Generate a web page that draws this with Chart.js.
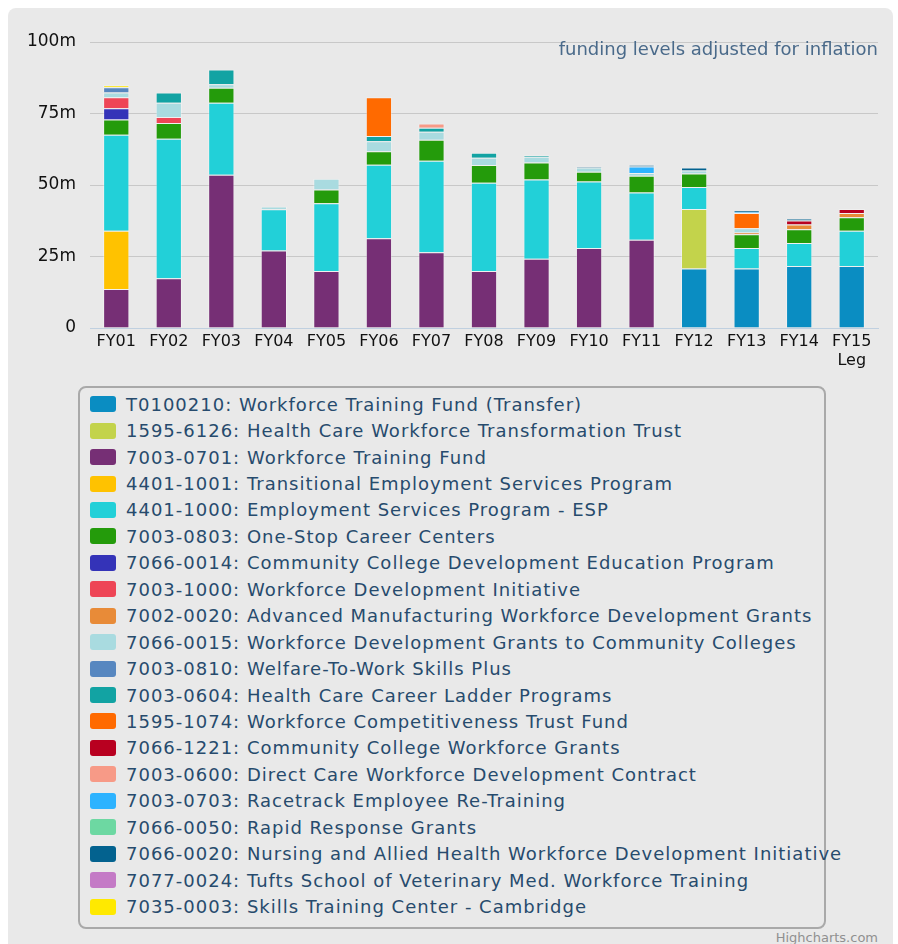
<!DOCTYPE html>
<html lang="en">
<head>
<meta charset="UTF-8">
<title>Workforce training funding</title>
<script src="https://cdn.jsdelivr.net/npm/chart.js@4.4.7/dist/chart.umd.min.js"></script>
<style>
  * { margin: 0; padding: 0; box-sizing: border-box; }
  body { background: #fff; width: 898px; height: 944px; overflow: hidden; position: relative;
         font-family: 'DejaVu Sans', sans-serif; }
  .panel { position: absolute; left: 8px; top: 8px; width: 885px; height: 960px;
           background: #e9e9e9; border-radius: 8px; }
  .chart-box { position: absolute; left: 0; top: 0; width: 898px; height: 380px; }
  .note { position: absolute; right: 20px; top: 38px; font-size: 18px; line-height: 22px;
          color: #4a6a8a; white-space: nowrap; }
  .legend { position: absolute; left: 78px; top: 386px; width: 748px; height: 543px;
            border: 2px solid #a9a9a9; border-radius: 8px; padding: 3px 0 0 10px; }
  .legend-item { display: flex; align-items: center; height: 26.45px; font-size: 18px;
                 letter-spacing: 1px; color: #274b6d; white-space: nowrap; }
  .legend-dot { width: 26px; height: 16px; border-radius: 3px; margin-right: 10px; flex-shrink: 0; }
  .credit { position: absolute; right: 20px; top: 930px; font-size: 13px; color: #909090; }
</style>
</head>
<body>
<div class="panel"></div>
<div class="chart-box"><canvas id="bars" width="898" height="380"></canvas></div>
<div class="note">funding levels adjusted for inflation</div>
<div class="legend" id="legend"></div>
<div class="credit">Highcharts.com</div>

<script>
// fiscal years
const categories = ['FY01','FY02','FY03','FY04','FY05','FY06','FY07','FY08',
                    'FY09','FY10','FY11','FY12','FY13','FY14',['FY15','Leg']];
const yTicks = [0, 25, 50, 75, 100];

// $ millions per line item, FY01..FY15 (null = no funding)
const t0100210  = [null,null,null,null,null,null,null,null,null,null,null,20.8,20.8,21.7,21.7];
const l15956126 = [null,null,null,null,null,null,null,null,null,null,null,20.8,null,null,null];
const l70030701 = [13.6,17.4,53.6,27.1,19.9,31.4,26.5,19.9,24.2,28.0,30.9,null,null,null,null];
const l44011001 = [20.4,null,null,null,null,null,null,null,null,null,null,null,null,null,null];
const l44011000 = [33.6,48.8,25.2,14.4,23.7,25.7,32.0,30.9,27.7,23.2,16.5,7.7,7.2,8.0,12.3];
const l70030803 = [5.3,5.5,5.2,null,4.8,4.7,7.3,6.2,6.0,3.4,5.8,4.7,4.8,4.8,4.7];
const l70660014 = [3.9,null,null,null,null,null,null,null,null,null,null,null,null,null,null];
const l70031000 = [3.9,2.1,null,null,null,null,null,null,null,null,null,null,null,null,null];
const l70020020 = [null,null,null,null,null,null,null,null,null,null,null,null,0.6,1.7,1.5];
const l70660015 = [1.6,5.0,1.2,1.0,3.8,3.5,2.8,2.5,2.0,1.5,1.0,1.1,1.5,null,null];
const l70030810 = [1.9,null,null,null,null,null,null,null,null,null,null,null,null,null,null];
const l70030604 = [null,3.5,5.2,null,null,1.8,1.4,1.8,0.5,null,null,null,null,null,null];
const l15951074 = [null,null,null,null,null,13.6,null,null,null,null,null,null,5.3,null,null];
const l70661221 = [null,null,null,null,null,null,null,null,null,null,null,null,null,1.4,1.4];
const l70030600 = [null,null,null,null,null,null,1.5,null,null,null,null,null,null,null,null];
const l70030703 = [null,null,null,null,null,null,null,null,null,null,2.3,null,0.4,null,null];
const l70660050 = [null,null,null,null,null,null,null,null,null,null,null,null,null,null,null];
const l70660020 = [null,null,null,null,null,null,null,null,null,0.4,0.5,1.0,0.4,0.6,null];
const l70770024 = [null,null,null,null,null,null,null,null,null,null,null,null,null,null,null];
const l70350003 = [0.7,null,null,null,null,null,null,null,null,null,null,null,null,null,null];

const seriesNames = [
  'T0100210: Workforce Training Fund (Transfer)',
  '1595-6126: Health Care Workforce Transformation Trust',
  '7003-0701: Workforce Training Fund',
  '4401-1001: Transitional Employment Services Program',
  '4401-1000: Employment Services Program - ESP',
  '7003-0803: One-Stop Career Centers',
  '7066-0014: Community College Development Education Program',
  '7003-1000: Workforce Development Initiative',
  '7002-0020: Advanced Manufacturing Workforce Development Grants',
  '7066-0015: Workforce Development Grants to Community Colleges',
  '7003-0810: Welfare-To-Work Skills Plus',
  '7003-0604: Health Care Career Ladder Programs',
  '1595-1074: Workforce Competitiveness Trust Fund',
  '7066-1221: Community College Workforce Grants',
  '7003-0600: Direct Care Workforce Development Contract',
  '7003-0703: Racetrack Employee Re-Training',
  '7066-0050: Rapid Response Grants',
  '7066-0020: Nursing and Allied Health Workforce Development Initiative',
  '7077-0024: Tufts School of Veterinary Med. Workforce Training',
  '7035-0003: Skills Training Center - Cambridge'
];
const seriesValues = [t0100210, l15956126, l70030701, l44011001, l44011000, l70030803,
  l70660014, l70031000, l70020020, l70660015, l70030810, l70030604, l15951074,
  l70661221, l70030600, l70030703, l70660050, l70660020, l70770024, l70350003];
const seriesColors = [
  '#0a8dc2', '#c3d34b', '#762f75', '#ffc200', '#22d0d8', '#249b0b', '#3433b8',
  '#ee4556', '#e88b38', '#a9dbe0', '#5787c0', '#12a3a3', '#ff6a00', '#b80020',
  '#f79a87', '#2db3ff', '#6dd8a2', '#03628f', '#c47ac6', '#ffe900'
];

const datasets = seriesNames.map((name, i) => ({
  label: name,
  data: seriesValues[i],
  backgroundColor: seriesColors[i],
  borderColor: 'rgba(255,255,255,0.35)',
  borderWidth: 1,
  barPercentage: 0.5,
  categoryPercentage: 1
}));

new Chart(document.getElementById('bars'), {
  type: 'bar',
  data: { labels: categories, datasets: datasets },
  options: {
    responsive: false,
    animation: false,
    layout: { padding: { left: 0, right: 20, top: 42, bottom: 0 } },
    plugins: { legend: { display: false }, tooltip: { enabled: false } },
    scales: {
      x: {
        stacked: true,
        grid: { display: false, drawTicks: false },
        border: { color: '#c0d0e0', width: 1 },
        ticks: { color: '#111', font: { family: 'DejaVu Sans', size: 16 }, padding: 4,
                 maxRotation: 0, autoSkip: false },
        afterFit: s => { s.height = 52; }
      },
      y: {
        stacked: true,
        min: 0, max: 100,
        afterBuildTicks: s => { s.ticks = yTicks.map(v => ({ value: v })); },
        grid: { color: '#c8c8c8', drawTicks: false },
        border: { display: false },
        ticks: { color: '#111', font: { family: 'DejaVu Sans', size: 17 }, padding: 14,
                 callback: v => v === 0 ? '0' : v + 'm' },
        afterFit: s => { s.width = 90; }
      }
    }
  }
});

// legend box
const legendEl = document.getElementById('legend');
seriesNames.forEach((name, i) => {
  legendEl.innerHTML += '<div class="legend-item">' +
    '<span class="legend-dot" style="background:' + seriesColors[i] + '"></span>' +
    '<span>' + name + '</span></div>';
});
</script>
</body>
</html>
